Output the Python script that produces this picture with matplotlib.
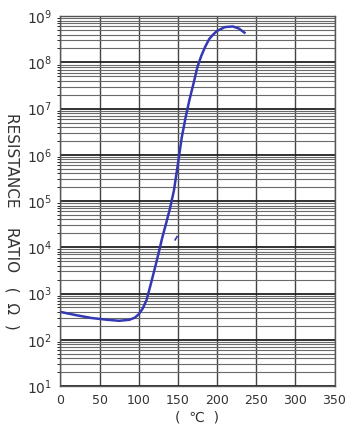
import matplotlib
matplotlib.use("Agg")
import matplotlib.pyplot as plt
from matplotlib.ticker import LogLocator, FixedLocator, NullFormatter

plt.rcParams['font.family'] = ['DejaVu Sans', 'Noto Sans CJK SC']

# curva (temperatura en C, relacion de resistencia)
temp = [0, 20, 40, 60, 75, 88, 95, 100, 105, 110, 115, 120, 125, 130, 135,
        140, 145, 150, 155, 160, 165, 170, 175, 180, 185, 190, 195, 200,
        210, 220, 228, 235]
ratio = [400, 340, 295, 270, 257, 270, 300, 355, 470, 720, 1500, 3200,
         7000, 16000, 33000, 70000, 1.7e5, 6.2e5, 2.4e6, 6.6e6, 1.6e7, 3.5e7,
         8e7, 1.4e8, 2.2e8, 3.2e8, 4e8, 4.8e8, 5.8e8, 6e8, 5.4e8, 4.4e8]

# pequeño trazo suelto cerca de 150 C
stub_t = [146.5, 149]
stub_r = [1.45e4, 1.7e4]

x_ticks = [0, 50, 100, 150, 200, 250, 300, 350]
y_ticks = [1e1, 1e2, 1e3, 1e4, 1e5, 1e6, 1e7, 1e8, 1e9]
y_labels = [r"$10^{%d}$" % e for e in range(1, 10)]

fig = plt.figure(figsize=(3.47, 4.26), dpi=100)
ax = fig.add_axes([0.174, 0.094, 0.790, 0.868])

ax.set_yscale("log")
ax.set_xlim(0, 350)
ax.set_ylim(1e1, 1e9)

ax.xaxis.set_major_locator(FixedLocator(x_ticks))
ax.set_xticklabels([str(t) for t in x_ticks])
ax.yaxis.set_major_locator(FixedLocator(y_ticks))
ax.set_yticklabels(y_labels)
ax.yaxis.set_minor_locator(LogLocator(base=10, subs=range(2, 10), numticks=20))
ax.yaxis.set_minor_formatter(NullFormatter())

ax.grid(True, which="major", axis="y", color="#222222", linewidth=1.3)
ax.grid(True, which="minor", axis="y", color="#6a6a6a", linewidth=0.8)
ax.grid(True, which="major", axis="x", color="#444444", linewidth=1.0)
ax.set_axisbelow(True)

ax.plot(temp, ratio, color="#3538b3", linewidth=1.8)
ax.plot(stub_t, stub_r, color="#3538b3", linewidth=1.2)

ax.tick_params(axis="y", length=0, labelsize=10, labelcolor="#333333", pad=6)
ax.tick_params(axis="x", length=0, labelsize=9, labelcolor="#333333", pad=6)
for s in ax.spines.values():
    s.set_color("#555555")
    s.set_linewidth(1.0)

fig.text(12 / 347, 1 - 221 / 426, "RESISTANCE    RATIO   (  Ω  )",
         rotation=270, ha="center", va="center", fontsize=11, color="#333333")
ax.set_xlabel("(  ℃  )", fontsize=10, color="#333333", labelpad=2)

fig.savefig("out.png", dpi=100)
